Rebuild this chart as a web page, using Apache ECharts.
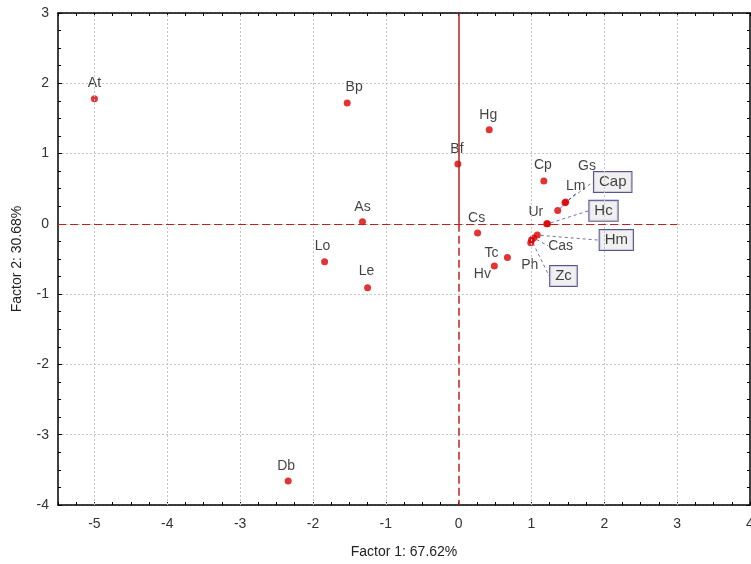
<!DOCTYPE html>
<html><head><meta charset="utf-8">
<script src="https://cdn.jsdelivr.net/npm/echarts@6/dist/echarts.min.js"></script>
<style>html,body{margin:0;padding:0;background:#fff}#c{width:751px;height:564px}</style>
</head><body><div id="c"></div>
<script>
// Data
const names = ['At','Bp','Bf','Hg','Cp','Gs','Lm','Cap','Ur','Hc','Cs','Hm','Cas','Ph','Zc','Tc','Hv','As','Lo','Le','Db'];
const factor1 = [-5.00,-1.53,-0.01,0.42,1.17,1.46,1.36,1.47,1.21,1.22,0.26,1.08,1.03,0.99,1.00,0.67,0.49,-1.32,-1.84,-1.25,-2.34];
const factor2 = [1.78,1.72,0.85,1.34,0.61,0.30,0.19,0.31,0.00,0.00,-0.13,-0.16,-0.20,-0.27,-0.23,-0.48,-0.60,0.03,-0.54,-0.91,-3.66];
const xTickLabels = [-5,-4,-3,-2,-1,0,1,2,3,4];
const yTickLabels = [-4,-3,-2,-1,0,1,2,3];

// label placement (pixel offsets from the point) and boxed labels — styling only
const labelOffsets = {
  At:[0,-16], Bp:[7,-16], Bf:[-1,-15], Hg:[-1,-15], Cp:[-1,-16], Gs:[22,-37], Lm:[18,-24],
  Cap:[47,-20], Ur:[-11,-12], Hc:[56,-13], Cs:[-1,-15], Hm:[79,5], Cas:[27,8], Ph:[-1,22],
  Zc:[32,36], Tc:[-16,-4], Hv:[-12,8], As:[0,-15], Lo:[-2,-16], Le:[-1,-17], Db:[-2,-15]
};
const boxed = ['Cap','Hc','Hm','Zc'];
const withLeader = ['Lm','Cap','Hc','Hm','Cas','Zc'];

const font = 'Liberation Sans, Arial, sans-serif';
const data = names.map((n,i)=>{
  const item = {name:n, value:[factor1[i], factor2[i]]};
  const lbl = {show:true, formatter:n};
  if (boxed.includes(n)) {
    Object.assign(lbl, {backgroundColor:'#ececec', borderColor:'#2b2b7a', borderWidth:1, padding:[3,5,2,5], fontSize:15});
  }
  item.label = lbl;
  if (withLeader.includes(n)) item.labelLine = {show:true, lineStyle:{color:'#1c1c6e', width:0.8, type:[3,3], opacity:0.8}};
  return item;
});

const gridColor = '#c4c4c4';
const chart = echarts.init(document.getElementById('c'));
chart.setOption({
  animation:false,
  backgroundColor:'#fff',
  grid:{left:58, right:1, top:13, bottom:59, containLabel:false, outerBoundsMode:'none'},
  xAxis:[{
    type:'value', min:-5.5, max:4, interval:0.25,
    name:'Factor 1: 67.62%', nameLocation:'middle', nameGap:40,
    nameTextStyle:{fontFamily:font, fontSize:14, color:'#222'},
    axisLine:{onZero:false, lineStyle:{color:'#000', width:1.5}},
    axisTick:{inside:true, length:3, lineStyle:{color:'#000'}},
    axisLabel:{margin:12, fontFamily:font, fontSize:14, color:'#333', hideOverlap:false,
      formatter:v=> xTickLabels.includes(v) ? String(v) : ''},
    splitLine:{show:false}
  },{
    type:'value', position:'top', min:-5.5, max:4, interval:0.25,
    axisLine:{onZero:false, lineStyle:{color:'#000', width:1.5}},
    axisTick:{inside:true, length:3, lineStyle:{color:'#000'}},
    axisLabel:{show:false}, splitLine:{show:false}
  }],
  yAxis:[{
    type:'value', min:-4, max:3, interval:1,
    name:'Factor 2: 30.68%', nameLocation:'middle', nameGap:34, nameRotate:90,
    nameTextStyle:{fontFamily:font, fontSize:14, color:'#222'},
    axisLine:{show:true, onZero:false, lineStyle:{color:'#000', width:1.5}},
    axisTick:{show:true, inside:true, length:4, lineStyle:{color:'#000'}},
    minorTick:{show:true, splitNumber:4, length:3, lineStyle:{color:'#000'}},
    axisLabel:{margin:9, fontFamily:font, fontSize:14, color:'#333',
      formatter:v=> yTickLabels.includes(v) ? String(v) : ''},
    splitLine:{show:true, lineStyle:{color:gridColor, type:[2,2], width:1}}
  },{
    type:'value', position:'right', min:-4, max:3, interval:1,
    axisLine:{show:true, onZero:false, lineStyle:{color:'#000', width:1.5}},
    axisTick:{show:true, inside:true, length:4, lineStyle:{color:'#000'}},
    minorTick:{show:true, splitNumber:4, length:3, lineStyle:{color:'#000'}},
    axisLabel:{show:false}, splitLine:{show:false}
  }],
  series:[{
    type:'scatter', xAxisIndex:0, yAxisIndex:0,
    symbol:'circle', symbolSize:7,
    itemStyle:{color:'#dd0000'},
    label:{show:true, position:'inside', fontFamily:font, fontSize:14, color:'#111'},
    labelLayout:function(p){
      const o = labelOffsets[names[p.dataIndex]] || [0,-15];
      return {dx:o[0], dy:o[1], hideOverlap:false};
    },
    data:data,
    markLine:{
      silent:true, symbol:'none', label:{show:false}, animation:false,
      data:[
        ...xTickLabels.filter(v=>v!==0 && v!==4).map(v=>({xAxis:v, lineStyle:{color:gridColor, type:[2,2], width:1}})),
        [{coord:[0,3], lineStyle:{color:'#b32020', type:'solid', width:1.5}},{coord:[0,0]}],
        [{coord:[0,0], lineStyle:{color:'#c02020', type:[8,4], width:1.5}},{coord:[0,-4]}],
        [{coord:[-5.5,0], lineStyle:{color:'#c02020', type:[8,4], width:1.2}},{coord:[3,0]}]
      ]
    }
  }]
});
</script>
</body></html>
